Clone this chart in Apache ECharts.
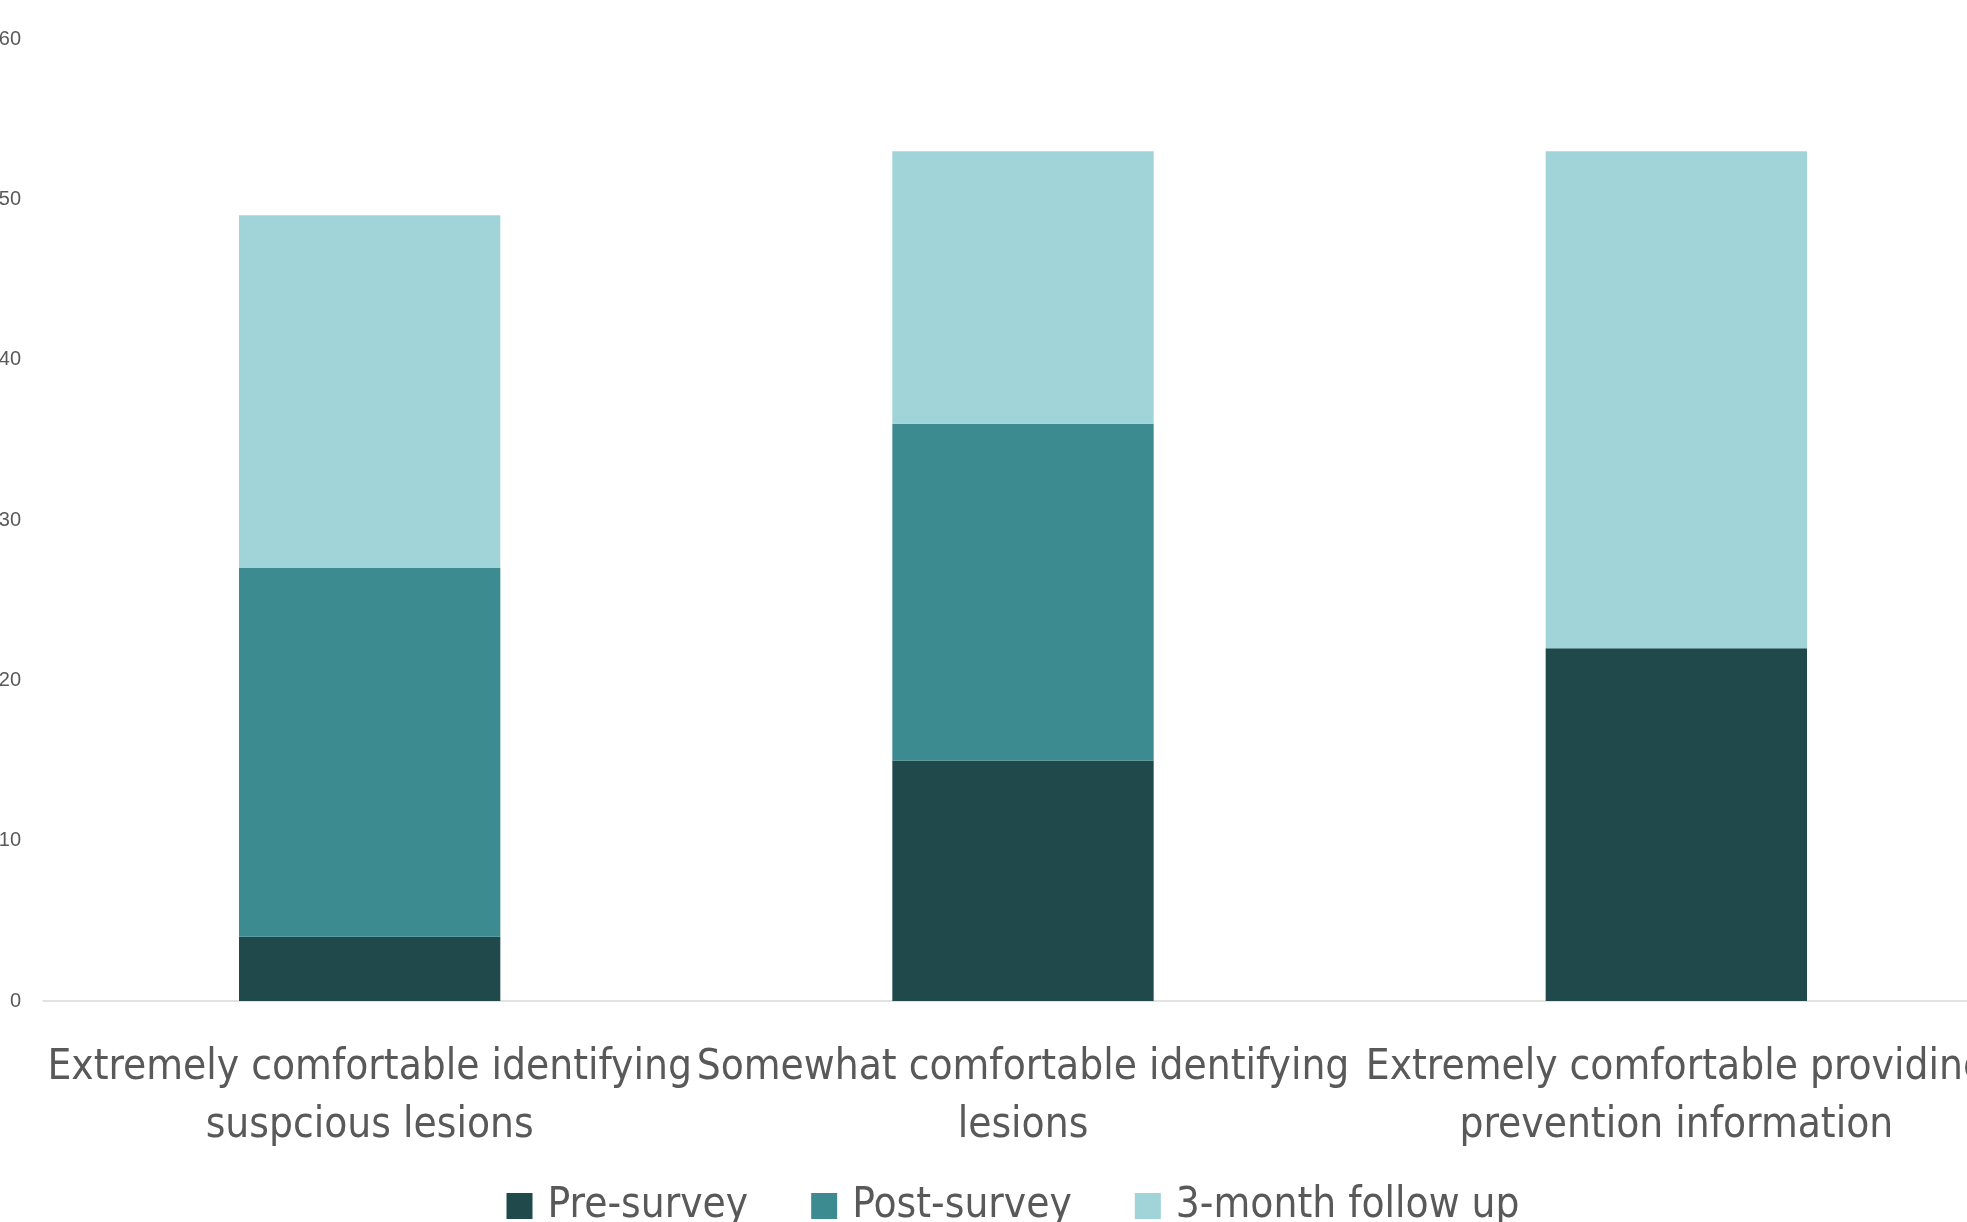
<!DOCTYPE html>
<html>
<head>
<meta charset="utf-8">
<script src="https://cdn.jsdelivr.net/npm/echarts@6/dist/echarts.min.js"></script>
<style>
html, body { margin: 0; padding: 0; width: 1967px; height: 1222px; overflow: hidden; background: #ffffff; }
#chart { position: absolute; left: -40px; top: 0px; width: 2106px; height: 1260px; }
</style>
</head>
<body>
<div id="chart"></div>
<script>
const categories = [
  'Extremely comfortable identifying\nsuspcious lesions',
  'Somewhat comfortable identifying\nlesions',
  'Extremely comfortable providing\nprevention information'
];
const seriesNames = ['Pre-survey', 'Post-survey', '3-month follow up'];
const preSurvey = [4, 15, 22];
const postSurvey = [23, 21, 0];
const followUp = [22, 17, 31];
const yTicks = [0, 10, 20, 30, 40, 50, 60];
const colors = ['#1f494b', '#3c8b90', '#a0d4d8'];

const FONT = "'Liberation Sans Narrow', 'DejaVu Sans Condensed', 'Roboto Condensed', 'Arial Narrow', 'Liberation Sans', sans-serif";

const chart = echarts.init(document.getElementById('chart'));
const values = [preSurvey, postSurvey, followUp];
chart.setOption({
  animation: false,
  color: colors,
  grid: { left: 83, right: 63, top: 39, bottom: 259, containLabel: false },
  legend: {
    data: seriesNames,
    top: 1180,
    left: 'center',
    itemWidth: 26,
    itemHeight: 26,
    itemGap: 63,
    icon: 'rect',
    textStyle: { fontSize: 42, color: '#595959', fontFamily: FONT, padding: [0, 0, 0, 10] }
  },
  xAxis: {
    type: 'category',
    data: categories,
    axisLine: { lineStyle: { color: '#d9d9d9', width: 1.5 } },
    axisTick: { show: false },
    axisLabel: {
      interval: 0,
      margin: 38,
      fontSize: 42,
      lineHeight: 58,
      color: '#595959',
      fontFamily: FONT
    }
  },
  yAxis: {
    type: 'value',
    min: yTicks[0],
    max: yTicks[yTicks.length - 1],
    interval: 10,
    axisLine: { show: false },
    axisTick: { show: false },
    splitLine: { show: false },
    axisLabel: { margin: 22, fontSize: 20, color: '#595959', fontFamily: "'Liberation Sans', sans-serif" }
  },
  series: seriesNames.map((name, i) => ({
    name: name,
    type: 'bar',
    stack: 'total',
    barWidth: '40%',
    data: values[i],
    itemStyle: { color: colors[i] }
  }))
});
</script>
</body>
</html>
